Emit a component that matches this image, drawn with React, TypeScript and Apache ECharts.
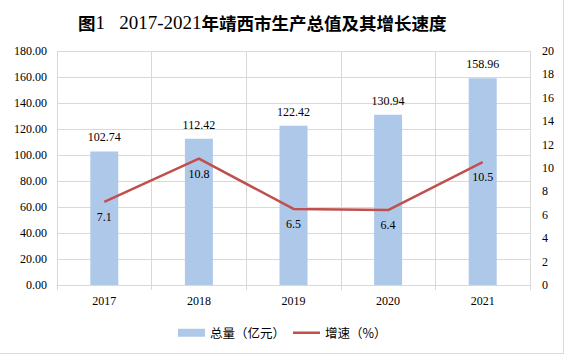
import React, { useEffect, useRef } from "react";
import * as echarts from "echarts";

const years = ["2017", "2018", "2019", "2020", "2021"];
const totals = [102.74, 112.42, 122.42, 130.94, 158.96];
const growth = [7.1, 10.8, 6.5, 6.4, 10.5];

const serif = "'Liberation Serif', 'Times New Roman', 'Noto Sans CJK SC', serif";

export default function App() {
  const ref = useRef<HTMLDivElement>(null);
  useEffect(() => {
    document.body.style.margin = "0";
    const chart = echarts.init(ref.current!, null, { renderer: "svg" });
    chart.setOption({
      animation: false,
      backgroundColor: "#ffffff",
      title: {
        text: "{c|图}{d|1   2017-2021}{c|年靖西市生产总值及其增长速度}",
        left: 78,
        top: 11,
        padding: 0,
        textStyle: {
          rich: {
            c: { fontFamily: "'Noto Sans CJK SC', sans-serif", fontSize: 17.5, fontWeight: "bold", color: "#000", lineHeight: 22 },
            d: { fontFamily: serif, fontSize: 19, fontWeight: "normal", color: "#000", lineHeight: 22 },
          },
        },
      },
      legend: {
        bottom: 9,
        left: 173,
        itemGap: 8,
        itemWidth: 27,
        itemHeight: 8,
        textStyle: { fontFamily: "'Noto Sans CJK SC', sans-serif", fontSize: 12.5, color: "#000" },
        data: [
          { name: "总量（亿元）", icon: "rect" },
          { name: "增速（%）", icon: "path://M0,0 L27,0 L27,2.5 L0,2.5 Z" },
        ],
      },
      grid: { left: 57, right: 33, top: 51, bottom: 68 },
      xAxis: {
        type: "category",
        data: years,
        boundaryGap: true,
        axisLine: { lineStyle: { color: "#d9d9d9" } },
        axisTick: { show: true, length: 5, lineStyle: { color: "#d9d9d9" } },
        splitLine: { show: true, interval: 0, lineStyle: { color: "#d9d9d9" } },
        axisLabel: { fontFamily: serif, fontSize: 12, color: "#000", margin: 10 },
      },
      yAxis: [
        {
          type: "value",
          min: 0,
          max: 180,
          interval: 20,
          axisLine: { show: false },
          axisTick: { show: false },
          splitLine: { lineStyle: { color: "#d9d9d9" } },
          axisLabel: {
            fontFamily: serif,
            fontSize: 12,
            color: "#000",
            margin: 10,
            formatter: (v: number) => v.toFixed(2),
          },
        },
        {
          type: "value",
          min: 0,
          max: 20,
          interval: 2,
          axisLine: { show: false },
          axisTick: { show: false },
          splitLine: { show: false },
          axisLabel: { fontFamily: serif, fontSize: 12, color: "#000", margin: 12 },
        },
      ],
      series: [
        {
          name: "总量（亿元）",
          type: "bar",
          data: totals,
          barWidth: 28,
          itemStyle: { color: "#aec8ea" },
          label: {
            show: true,
            position: "top",
            distance: 8,
            fontFamily: serif,
            fontSize: 12,
            color: "#000",
            formatter: (p: any) => p.value.toFixed(2),
          },
        },
        {
          name: "增速（%）",
          type: "line",
          yAxisIndex: 1,
          data: growth,
          symbol: "circle",
          symbolSize: 0.01,
          showSymbol: true,
          lineStyle: { color: "#c0504d", width: 2.5 },
          itemStyle: { color: "#c0504d" },
          label: {
            show: true,
            position: "bottom",
            distance: 9,
            fontFamily: serif,
            fontSize: 12,
            color: "#000",
          },
        },
      ],
    });
    return () => chart.dispose();
  }, []);
  return (
    <div
      style={{
        position: "absolute",
        left: 0,
        top: 0,
        width: 563,
        height: 353,
        border: "1px solid #d9d9d9",
        borderLeft: "none",
        borderTop: "none",
      }}
    >
      <div ref={ref} style={{ width: 563, height: 353 }} />
    </div>
  );
}
